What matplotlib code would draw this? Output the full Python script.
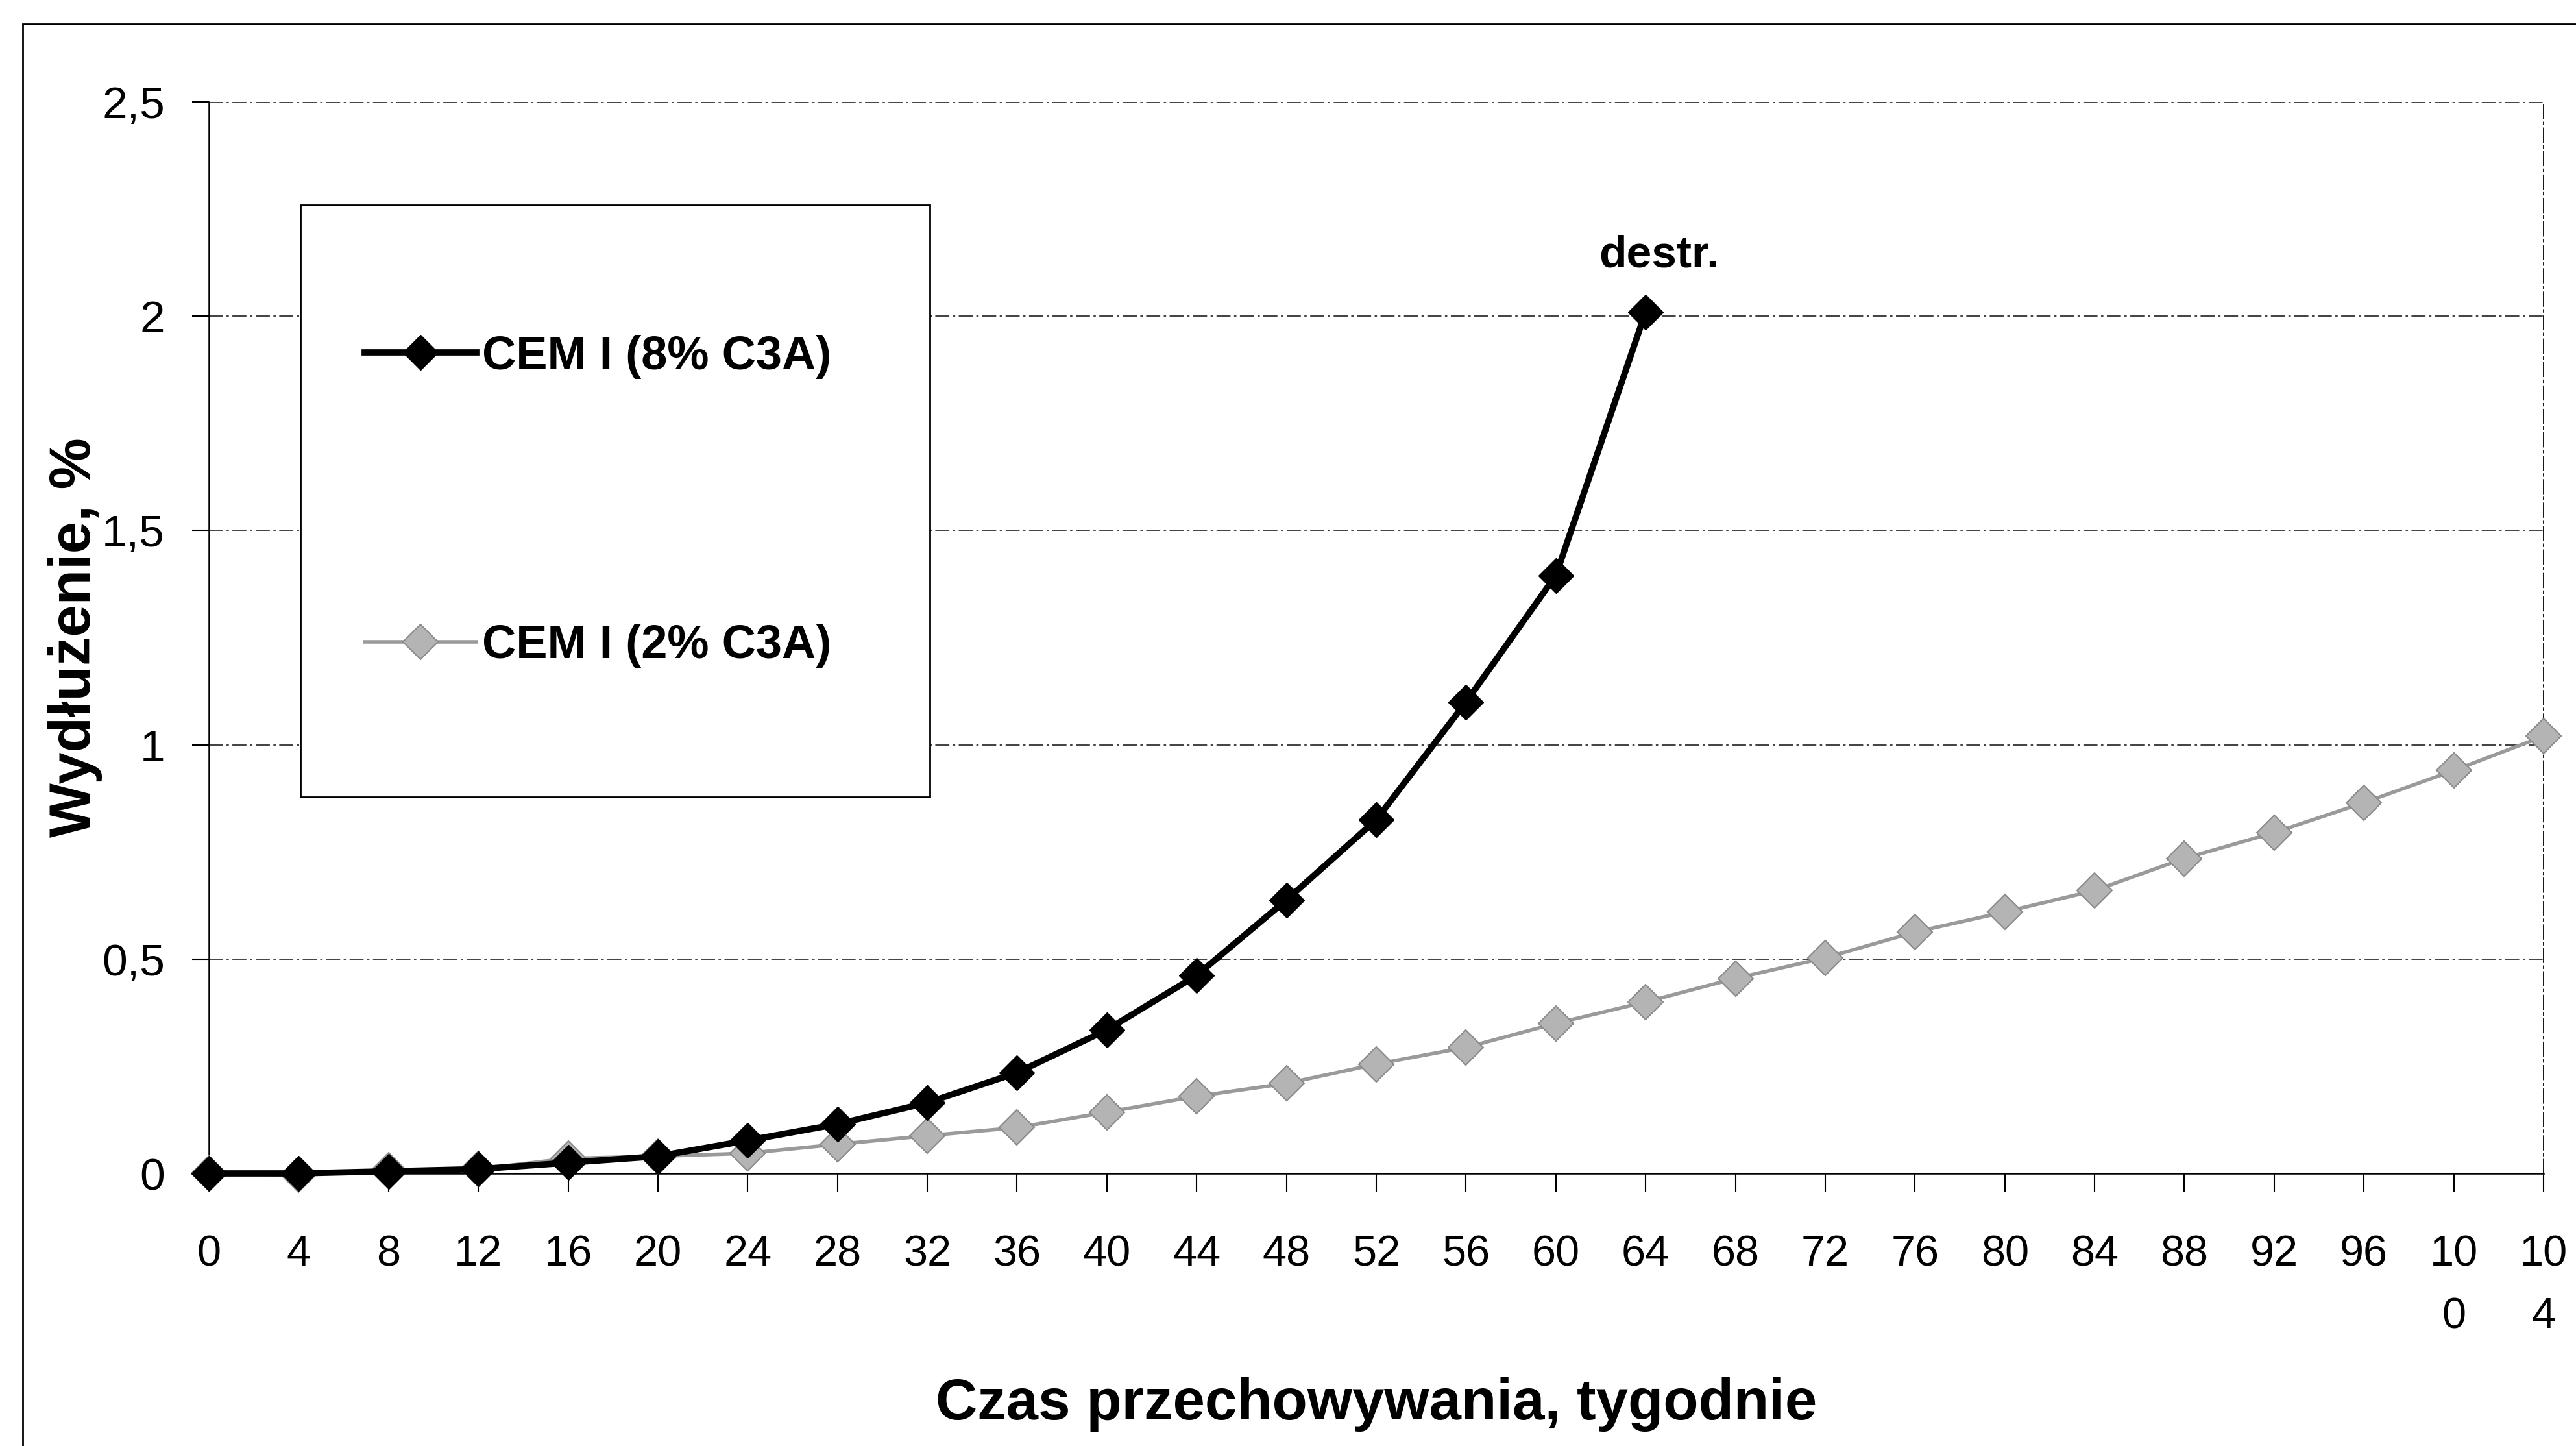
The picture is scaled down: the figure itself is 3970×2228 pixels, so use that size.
import matplotlib.pyplot as plt
from matplotlib.patches import Rectangle

plt.rcParams['font.family'] = ['Liberation Sans', 'DejaVu Sans']

# storage time in weeks
weeks_8 = [0, 4, 8, 12, 16, 20, 24, 28, 32, 36, 40, 44, 48, 52, 56, 60, 64]
exp_8 = [0.0, 0.0, 0.005, 0.01, 0.025, 0.04, 0.077, 0.115, 0.165, 0.235, 0.335,
         0.462, 0.638, 0.825, 1.10, 1.395, 2.01]

weeks_2 = [0, 4, 8, 12, 16, 20, 24, 28, 32, 36, 40, 44, 48, 52, 56, 60, 64,
           68, 72, 76, 80, 84, 88, 92, 96, 100, 104]
exp_2 = [0.0, -0.003, 0.008, 0.01, 0.035, 0.04, 0.047, 0.068, 0.088, 0.107, 0.143,
         0.18, 0.21, 0.255, 0.294, 0.35, 0.40, 0.455, 0.503, 0.563, 0.61, 0.66,
         0.735, 0.795, 0.865, 0.94, 1.02]

x_ticks = list(range(0, 105, 4))
x_labels = [str(t) for t in x_ticks[:-2]] + ['10\n0', '10\n4']
y_ticks = [0, 0.5, 1, 1.5, 2, 2.5]
y_labels = ['0', '0,5', '1', '1,5', '2', '2,5']

W, H = 3970, 2228
fig = plt.figure(figsize=(W / 100, H / 100), dpi=100)
ax = fig.add_axes([322 / W, 1 - 1808 / H, 3598 / W, 1651 / H])

# outer chart frame (cut off at right and bottom)
fig.patches.append(Rectangle((35 / W, -0.2), 1.5, 1.2 - 37 / H,
                             transform=fig.transFigure, fill=False,
                             edgecolor='black', lw=2))
# legend frame
ax.add_patch(Rectangle((463 / W, 1 - 1228 / H), 970 / W, 912 / H,
                       transform=fig.transFigure, fill=True,
                       facecolor='white', edgecolor='black', lw=2,
                       zorder=5))

ax.plot(weeks_2, exp_2, color='#9a9a9a', lw=4, marker='D', markersize=28,
        markerfacecolor='#b4b4b4', markeredgecolor='#8a8a8a', markeredgewidth=1.5,
        clip_on=False, zorder=3, label='CEM I (2% C3A)')
ax.plot(weeks_8, exp_8, color='black', lw=7, marker='D', markersize=28,
        markerfacecolor='black', markeredgecolor='black',
        clip_on=False, zorder=4, label='CEM I (8% C3A)')

ax.annotate('destr.', xy=(weeks_8[-1], exp_8[-1]), xytext=(15, 63),
            textcoords='offset points', ha='center', va='center',
            fontsize=50, fontweight='bold')

ax.set_xlim(0, 104)
ax.set_ylim(0, 2.5)
ax.set_xticks(x_ticks)
ax.set_xticklabels(x_labels, fontsize=48)
for lab in ax.get_xticklabels():
    lab.set_linespacing(1.7)
ax.set_yticks(y_ticks)
ax.set_yticklabels(y_labels, fontsize=50)
ax.tick_params(axis='x', direction='out', length=20, width=1.5, pad=48)
ax.tick_params(axis='y', direction='out', length=19, width=1.5, pad=30)

ax.yaxis.grid(True, color='0.2', lw=1.3, linestyle=(0, (12, 3, 2, 3)))
ax.set_axisbelow(True)

ax.spines['top'].set_visible(False)
ax.spines['right'].set_linestyle((0, (12, 3, 2, 3)))
ax.spines['right'].set_linewidth(1.3)
ax.spines['left'].set_linewidth(1.8)
ax.spines['bottom'].set_linewidth(1.8)

ax.set_xlabel('Czas przechowywania, tygodnie', fontsize=64, fontweight='bold')
ax.set_ylabel('Wydłużenie, %', fontsize=64, fontweight='bold')
ax.xaxis.set_label_coords(0.5, -(2122 - 1808) / 1651)
ax.yaxis.set_label_coords(-(322 - 158) / 3598, 0.5)

fs = 52
fs_px = fs * 100 / 72
handles, labels = ax.get_legend_handles_labels()
leg = ax.legend(handles[::-1], labels[::-1], loc='upper left',
                bbox_to_anchor=(562 / W, 1 - (559 - 0.6 * fs_px) / H),
                bbox_transform=fig.transFigure, borderaxespad=0, borderpad=0,
                prop={'size': fs, 'weight': 'bold'}, numpoints=1,
                handlelength=172 / fs_px, handletextpad=0.12,
                labelspacing=(464 - 1.2 * fs_px) / fs_px, frameon=False)
leg.set_zorder(6)

fig.savefig('out.png', dpi=100)
